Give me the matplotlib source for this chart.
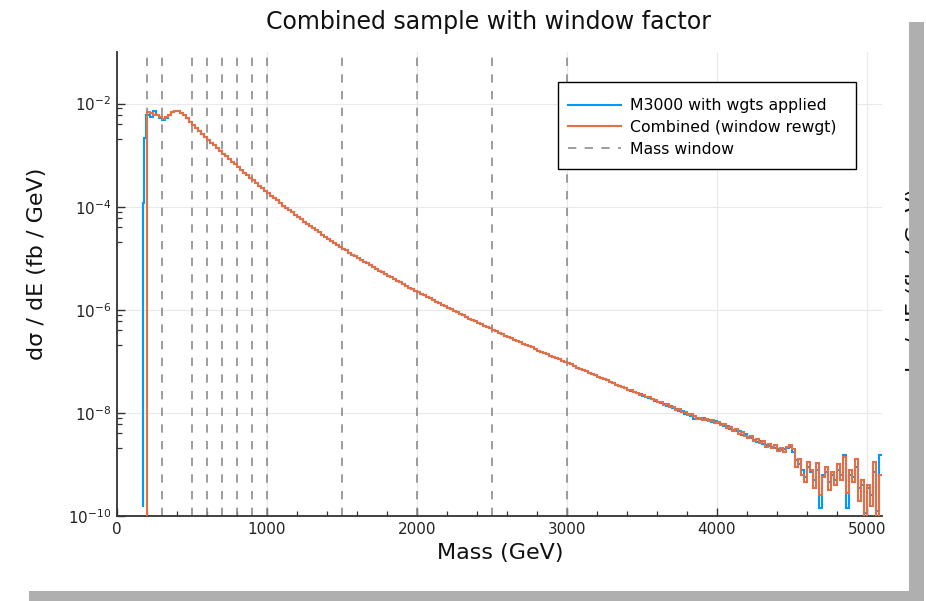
import numpy as np
import matplotlib
matplotlib.use("Agg")
import matplotlib.pyplot as plt
from matplotlib.lines import Line2D
from matplotlib.patches import Rectangle
from matplotlib.transforms import Bbox
from matplotlib.ticker import FixedLocator, MultipleLocator, NullFormatter

# histogram bins: 20 GeV wide, 200 .. 5100 GeV
bin_lo = 200
bin_hi = 5100
bin_width = 20

# log10(dsigma/dE) per bin (one row = 200 GeV)
combined_log = [
    -2.16, -2.19, -2.22, -2.23, -2.27, -2.29, -2.27, -2.22, -2.17, -2.15,
    -2.15, -2.18, -2.22, -2.28, -2.35, -2.42, -2.47, -2.53, -2.59, -2.65,
    -2.71, -2.76, -2.81, -2.86, -2.92, -2.97, -3.02, -3.08, -3.13, -3.18,
    -3.23, -3.28, -3.34, -3.39, -3.44, -3.49, -3.54, -3.59, -3.64, -3.69,
    -3.74, -3.79, -3.84, -3.88, -3.93, -3.98, -4.02, -4.07, -4.11, -4.16,
    -4.20, -4.24, -4.29, -4.33, -4.37, -4.42, -4.46, -4.50, -4.54, -4.58,
    -4.62, -4.66, -4.70, -4.74, -4.78, -4.82, -4.85, -4.89, -4.93, -4.96,
    -5.00, -5.03, -5.07, -5.10, -5.14, -5.17, -5.21, -5.24, -5.27, -5.31,
    -5.34, -5.37, -5.41, -5.44, -5.47, -5.50, -5.54, -5.57, -5.60, -5.63,
    -5.66, -5.69, -5.72, -5.75, -5.78, -5.81, -5.84, -5.87, -5.90, -5.93,
    -5.96, -5.99, -6.02, -6.05, -6.08, -6.11, -6.14, -6.17, -6.19, -6.22,
    -6.25, -6.28, -6.31, -6.34, -6.36, -6.39, -6.42, -6.45, -6.47, -6.50,
    -6.53, -6.55, -6.58, -6.60, -6.63, -6.66, -6.68, -6.71, -6.73, -6.76,
    -6.79, -6.81, -6.84, -6.86, -6.89, -6.91, -6.94, -6.96, -6.99, -7.01,
    -7.04, -7.06, -7.09, -7.12, -7.14, -7.17, -7.19, -7.22, -7.25, -7.27,
    -7.30, -7.32, -7.35, -7.37, -7.40, -7.42, -7.45, -7.47, -7.50, -7.52,
    -7.55, -7.56, -7.60, -7.61, -7.65, -7.66, -7.70, -7.70, -7.74, -7.75,
    -7.79, -7.79, -7.84, -7.83, -7.88, -7.89, -7.94, -7.92, -7.98, -7.99,
    -8.04, -8.03, -8.07, -8.12, -8.09, -8.13, -8.11, -8.16, -8.14, -8.19,
    -8.17, -8.24, -8.22, -8.30, -8.27, -8.35, -8.31, -8.40, -8.37, -8.45,
    -8.49, -8.44, -8.55, -8.50, -8.58, -8.54, -8.66, -8.60, -8.69, -8.63,
    -8.74, -8.68, -8.75, -8.66, -8.62, -8.70, -9.05, -8.90, -9.20, -9.35,
    -8.95, -9.10, -9.45, -8.98, -9.60, -9.25, -9.05, -9.50, -9.15, -9.40,
    -9.00, -9.30, -8.85, -9.55, -9.10, -9.35, -8.90, -9.70, -9.30, -10.30,
    -9.40, -9.80, -8.95, -10.50, -9.20,
]

m3000_log = [
    -2.22, -2.26, -2.15, -2.23, -2.28, -2.31, -2.28, -2.22, -2.17, -2.15,
    -2.15, -2.18, -2.22, -2.28, -2.35, -2.42, -2.47, -2.53, -2.59, -2.65,
    -2.71, -2.76, -2.81, -2.86, -2.92, -2.97, -3.02, -3.08, -3.13, -3.18,
    -3.23, -3.28, -3.34, -3.39, -3.44, -3.49, -3.54, -3.59, -3.64, -3.69,
    -3.74, -3.79, -3.84, -3.88, -3.93, -3.98, -4.02, -4.07, -4.11, -4.16,
    -4.20, -4.24, -4.29, -4.33, -4.37, -4.42, -4.46, -4.50, -4.54, -4.58,
    -4.62, -4.66, -4.70, -4.74, -4.78, -4.82, -4.85, -4.89, -4.93, -4.96,
    -5.00, -5.03, -5.07, -5.10, -5.14, -5.17, -5.21, -5.24, -5.27, -5.31,
    -5.34, -5.37, -5.41, -5.44, -5.47, -5.50, -5.54, -5.57, -5.60, -5.63,
    -5.66, -5.69, -5.72, -5.75, -5.78, -5.81, -5.84, -5.87, -5.90, -5.93,
    -5.96, -5.99, -6.02, -6.05, -6.08, -6.11, -6.14, -6.17, -6.19, -6.22,
    -6.25, -6.28, -6.31, -6.34, -6.36, -6.39, -6.42, -6.45, -6.47, -6.50,
    -6.53, -6.55, -6.58, -6.60, -6.63, -6.66, -6.68, -6.71, -6.73, -6.76,
    -6.79, -6.81, -6.84, -6.86, -6.89, -6.91, -6.94, -6.96, -6.99, -7.01,
    -7.04, -7.06, -7.09, -7.12, -7.14, -7.17, -7.19, -7.22, -7.25, -7.27,
    -7.30, -7.32, -7.35, -7.37, -7.40, -7.42, -7.45, -7.47, -7.50, -7.52,
    -7.55, -7.57, -7.59, -7.62, -7.64, -7.67, -7.69, -7.72, -7.73, -7.77,
    -7.78, -7.81, -7.82, -7.86, -7.87, -7.91, -7.92, -7.97, -7.96, -8.02,
    -8.02, -8.07, -8.12, -8.10, -8.12, -8.10, -8.14, -8.13, -8.18, -8.16,
    -8.20, -8.21, -8.26, -8.26, -8.31, -8.33, -8.36, -8.36, -8.42, -8.41,
    -8.47, -8.48, -8.52, -8.56, -8.54, -8.60, -8.62, -8.64, -8.66, -8.68,
    -8.70, -8.72, -8.70, -8.68, -8.66, -8.75, -8.92, -9.00, -9.10, -9.25,
    -9.05, -9.15, -9.30, -9.10, -9.85, -9.20, -9.15, -9.35, -9.20, -9.30,
    -9.10, -9.20, -8.82, -9.85, -9.20, -9.25, -9.05, -9.45, -9.40, -9.95,
    -9.45, -9.60, -9.15, -9.90, -8.82,
]

# the M3000 sample starts a bit below 200 GeV
m3000_head_edges = [170, 173, 183, 193]
m3000_head_log = [-9.82, -3.92, -2.66, -2.22]

window_edges = [200, 300, 500, 600, 700, 800, 900, 1000, 1500, 2000, 2500, 3000]

labels = ["M3000 with wgts applied", "Combined (window rewgt)", "Mass window"]
c_blue = "#009AFA"
c_orange = "#E36F47"
c_window = "#8c8c8c"

edges = np.arange(bin_lo, bin_hi + 1, bin_width)
m3000_edges = np.concatenate([m3000_head_edges, edges])
m3000_vals = 10.0 ** np.array(m3000_head_log + m3000_log)
comb_edges = np.concatenate([[190], edges])
comb_vals = 10.0 ** np.array([-12.0] + combined_log)

W, H = 926, 601
fig = plt.figure(figsize=(W / 100, H / 100), dpi=100)
ax = fig.add_axes([117 / W, 85 / H, 765 / W, 464 / H])

for w in window_edges:
    ax.axvline(w, color=c_window, lw=1.2, ls=(0, (5, 5)), zorder=1)
ax.stairs(m3000_vals, m3000_edges, baseline=None, color=c_blue, lw=1.5, zorder=2)
ax.stairs(comb_vals, comb_edges, baseline=None, color=c_orange, lw=1.5, zorder=3)

ax.set_yscale("log")
ax.set_xlim(0, 5100)
ax.set_ylim(1e-10, 1e-1)

ax.xaxis.set_major_locator(MultipleLocator(1000))
ax.xaxis.set_minor_locator(MultipleLocator(200))
ax.yaxis.set_major_locator(FixedLocator([10.0 ** k for k in range(-10, -1, 2)]))
minor_y = []
for k in range(-10, -1, 2):
    lo, hi = 10.0 ** k, 10.0 ** (k + 2)
    minor_y += [lo + j * (hi - lo) / 5 for j in range(1, 5)]
ax.yaxis.set_minor_locator(FixedLocator(minor_y))
ax.yaxis.set_minor_formatter(NullFormatter())

ax.grid(True, which="major", color="#e9e9e9", lw=0.8)
ax.set_axisbelow(True)
for s in ["top", "right"]:
    ax.spines[s].set_visible(False)
for s in ["left", "bottom"]:
    ax.spines[s].set_color("#333333")
    ax.spines[s].set_linewidth(1.3)
ax.tick_params(which="major", direction="in", length=6, width=1, color="#333333",
               labelsize=10.9, pad=4, labelcolor="#222222")
ax.tick_params(which="minor", direction="in", length=3.5, width=0.9, color="#333333")

# legend: box drawn separately so its padding matches the original
ax.add_patch(Rectangle((0.5765, 0.7478), 0.3895, 0.1875, transform=ax.transAxes,
                       facecolor="white", edgecolor="black", lw=1.0, zorder=4.5))
handles = [Line2D([], [], color=c_blue, lw=1.5),
           Line2D([], [], color=c_orange, lw=1.5),
           Line2D([], [], color=c_window, lw=1.2, ls=(0, (5, 5)))]
leg = ax.legend(handles, labels, loc="upper left", bbox_to_anchor=(0.5895, 0.90),
                borderaxespad=0, borderpad=0, fontsize=11.3, frameon=False,
                handlelength=3.4, handletextpad=0.55, labelspacing=0.42)
leg.set_zorder(5)

fig.text(488 / W, 1 - 22 / H, "Combined sample with window factor",
         ha="center", va="center", fontsize=17, color="#111111")
fig.text(500 / W, 1 - 553 / H, "Mass (GeV)", ha="center", va="center",
         fontsize=16, color="#111111")
fig.text(37 / W, 1 - 264 / H, "dσ / dE (fb / GeV)", ha="center", va="center",
         rotation=90, fontsize=16, color="#111111")

# right-hand label cut off by the frame edge
t = fig.text(906 / W, 1 - 284 / H, "dσ / dE (fb / GeV)", ha="left", va="center",
             rotation=90, fontsize=16, color="#111111")
t.set_clip_box(Bbox([[0, 0], [909, H]]))
t.set_clip_on(True)

# grey drop shadow
shadow = "#afafaf"
fig.add_artist(Rectangle((909 / W, 0), 15 / W, (H - 22) / H, transform=fig.transFigure,
                         color=shadow, lw=0, zorder=10))
fig.add_artist(Rectangle((29 / W, 0), (924 - 29) / W, 10 / H, transform=fig.transFigure,
                         color=shadow, lw=0, zorder=10))

fig.savefig("out.png", dpi=100)
